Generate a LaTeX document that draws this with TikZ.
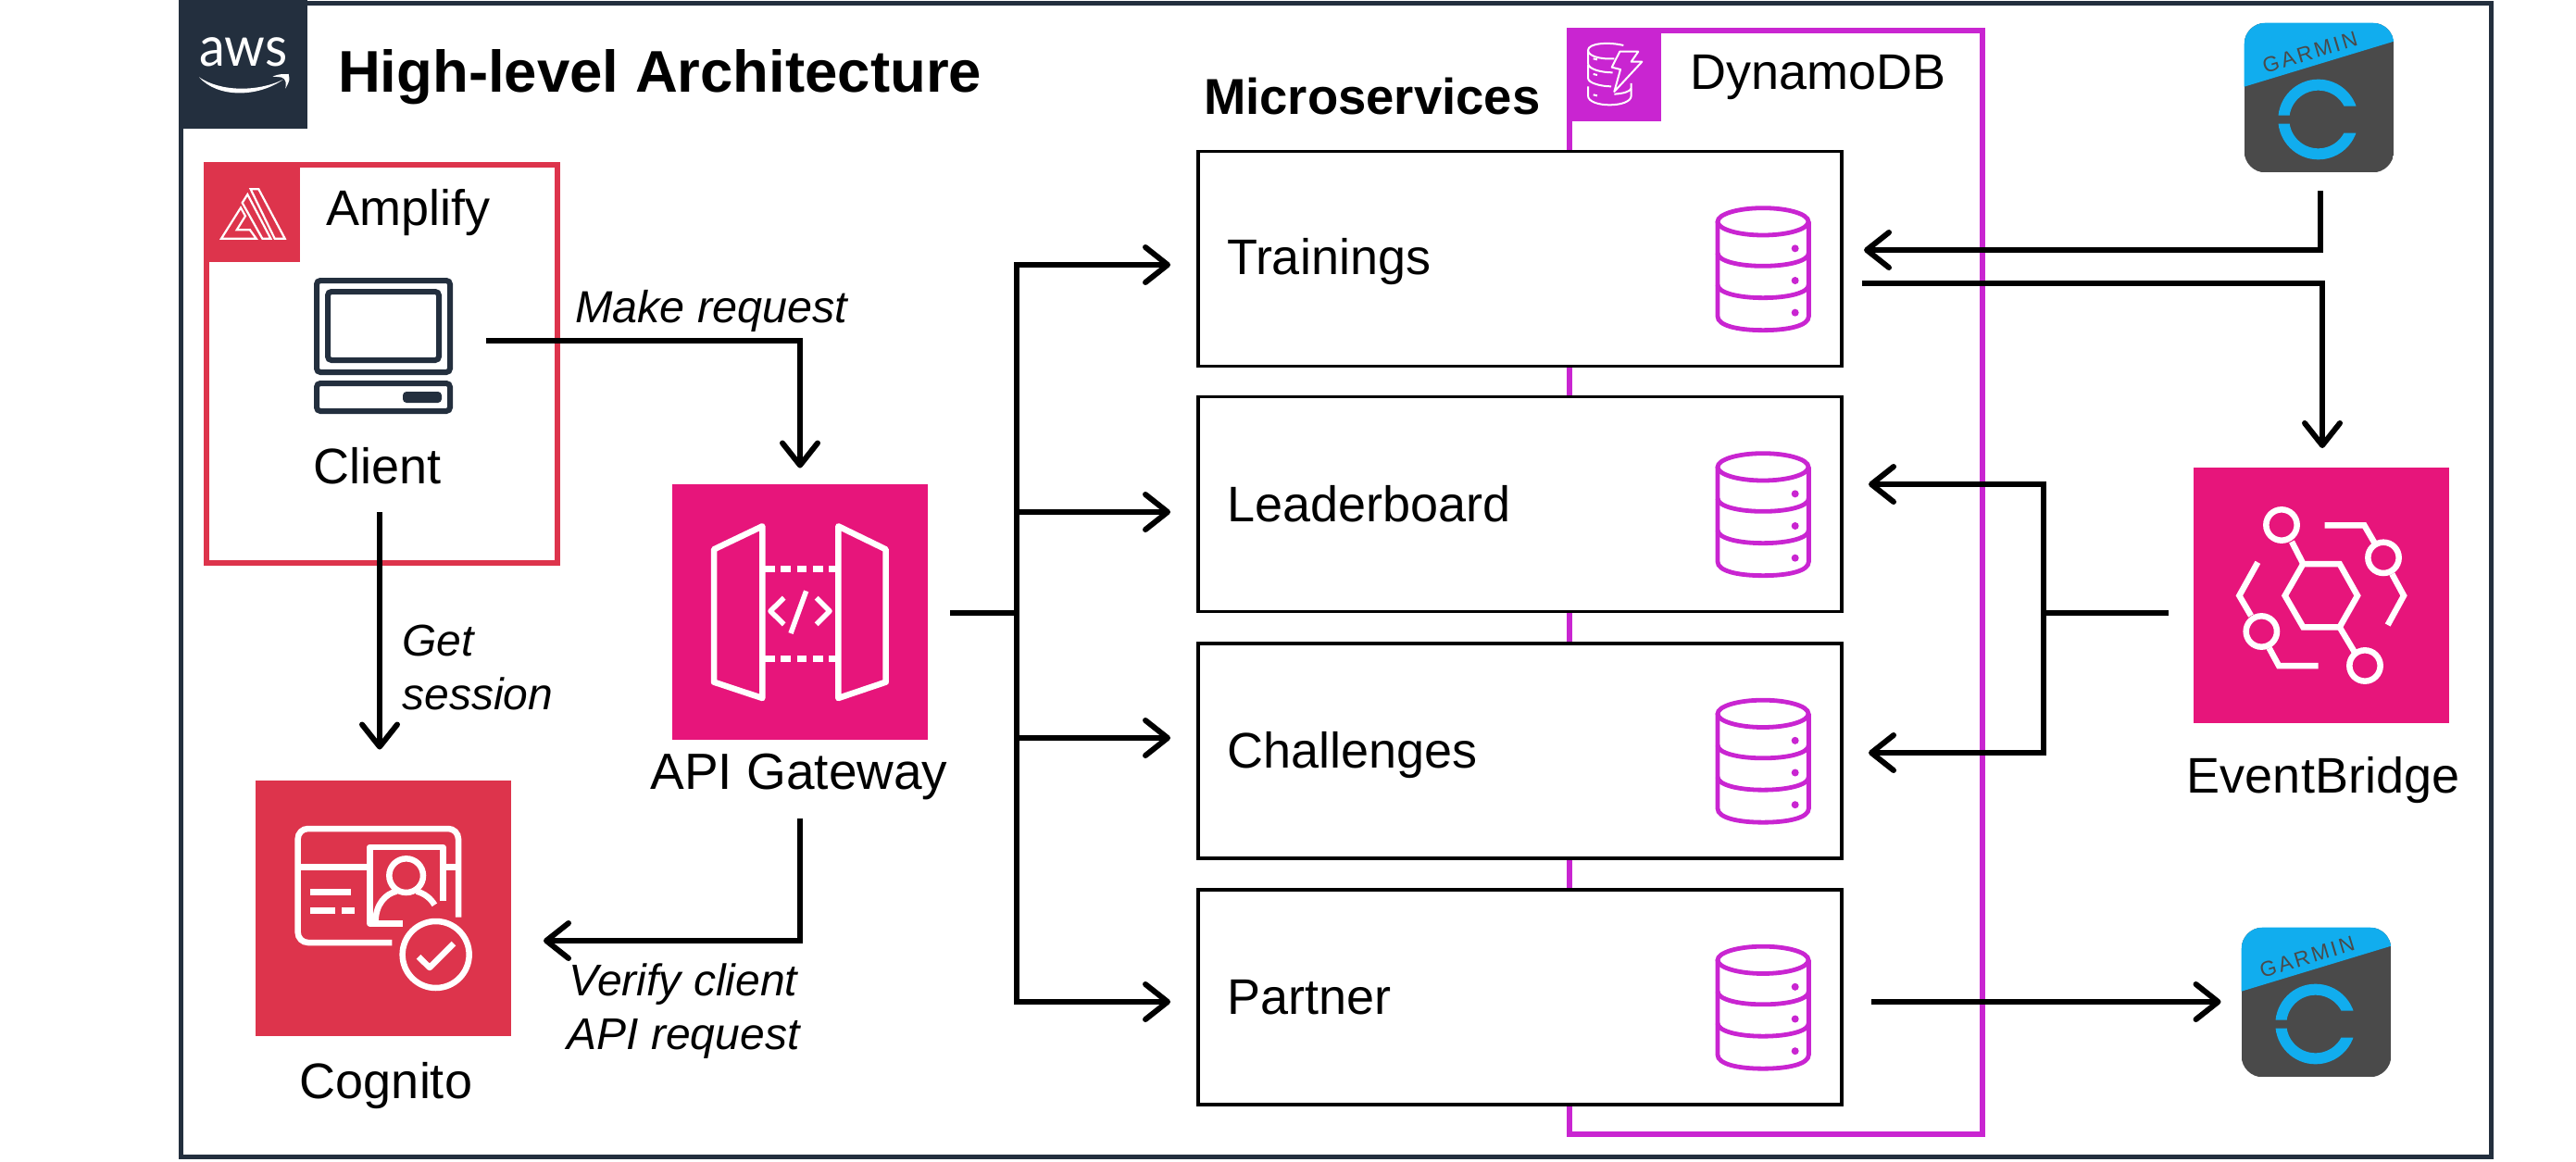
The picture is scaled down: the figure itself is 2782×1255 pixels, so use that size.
\documentclass[tikz,border=0pt]{standalone}
\usepackage{fontspec}
\setmainfont{Liberation Sans}
\newfontfamily\awsfont{Lato}
\newfontfamily\garminfont[LetterSpace=12]{Liberation Sans}
\usetikzlibrary{arrows.meta,calc}
\definecolor{awsdark}{HTML}{232F3E}
\definecolor{awsred}{HTML}{DD344C}
\definecolor{awspink}{HTML}{E7157B}
\definecolor{awspurple}{HTML}{C925D1}
\definecolor{garmindark}{HTML}{4A4A4A}
\definecolor{garminblue}{HTML}{11ADEE}
\tikzset{
  x=1pt,y=-1pt,
  every node/.style={inner sep=0pt,outer sep=0pt},
  lab/.style={font=\fontsize{54}{60}\selectfont},
  labit/.style={font=\fontsize{48}{58}\selectfont\itshape,align=center},
  headline/.style={font=\fontsize{#1}{#1}\selectfont\bfseries},
  service/.style={rectangle,draw=black,line width=3.5pt,fill=white,minimum width=695pt,minimum height=232pt},
  tile/.style={rectangle,minimum width=276pt,minimum height=276pt},
  arr/.style={draw=black,line width=6pt,shorten >=2pt,-{Straight Barb[length=24pt,width=38pt,round]}},
  wire/.style={draw=black,line width=6pt},
  icon/.style={draw=white,line width=6.5pt},
  crop/.style={x=0.33333pt,y=-0.33333pt},
  garminicon/.pic={
    \begin{scope}[crop]
      \begin{scope}
        \clip[rounded corners=23pt] (122,65) rectangle (607,550);
        \fill[garmindark] (122,65) rectangle (607,550);
        \fill[garminblue] (122,65) -- (607,65) -- (607,125) -- (122,272) -- cycle;
      \end{scope}
      \begin{scope}
        \clip (200,200) -- (520,200) -- (520,335) -- (362,335) -- (362,365) -- (200,365) -- cycle
              (200,392) -- (362,392) -- (362,422) -- (520,422) -- (520,560) -- (200,560) -- cycle;
        \draw[garminblue,line width=12pt] (362,378) circle[radius=112];
      \end{scope}
      \node[rotate=16.9,text=garmindark,font=\fontsize{23}{23}\selectfont\garminfont] (word) at (335,160) {GARMIN};
    \end{scope}
  },
  cylinder/.pic={
    \begin{scope}[crop,draw=awspurple,line width=4.8pt]
      \draw (192,88) ellipse[x radius=147,y radius=44];
      \draw (45,88) -- (45,395) .. controls (45,425) and (110,440) .. (192,440) .. controls (275,440) and (340,425) .. (340,395) -- (340,88);
      \draw (45,190) .. controls (45,215) and (110,232) .. (192,232) .. controls (275,232) and (340,215) .. (340,190);
      \draw (45,293) .. controls (45,318) and (110,335) .. (192,335) .. controls (275,335) and (340,318) .. (340,293);
      \fill[awspurple] (296,175) circle[radius=12] (296,279) circle[radius=12] (296,383) circle[radius=12];
    \end{scope}
  }
}
\begin{document}
\begin{tikzpicture}
\useasboundingbox (0,0) rectangle (2782,1255);
\fill[white] (0,0) rectangle (2782,1255);

% frame and AWS tag
\node[rectangle,draw=awsdark,line width=5pt,minimum width=2495pt,minimum height=1245pt] (frame) at (1443,626.5) {};
\node[rectangle,fill=awsdark,minimum width=138.5pt,minimum height=139pt] (awstag) at (262.25,69.5) {};
\node[anchor=base,text=white,xscale=0.93,font=\fontsize{60}{60}\selectfont\awsfont] (awstext) at (263,72) {aws};
\begin{scope}[shift={(195,0)},crop]
  \fill[white] (60,250) .. controls (130,298) and (250,298) .. (332,258) .. controls (250,316) and (120,318) .. (60,250) -- cycle;
  \fill[white] (298,248) .. controls (320,240) .. (350,240) .. controls (354,260) .. (340,287) .. controls (342,265) .. (336,256) .. controls (330,250) .. (298,248) -- cycle;
\end{scope}
\node[anchor=base west,headline=63.5] (title) at (365,99.5) {High-level Architecture};

% Amplify
\node[rectangle,draw=awsred,line width=6pt,minimum width=379pt,minimum height=430pt] (amplify) at (412.5,393) {};
\node[rectangle,fill=awsred,minimum width=104pt,minimum height=108pt] (amplifytag) at (272,229) {};
\begin{scope}[shift={(215,170)},crop,draw=white,line width=2.2pt]
  \draw (167,103) -- (193,103) -- (278,263) -- (245,263) -- cycle;
  \draw (140,147) -- (157,120) -- (232,263) -- (205,263) -- cycle;
  \draw (135,163) -- (72,263) -- (185,263) -- (165,235) -- (122,235) -- (150,190) -- cycle;
\end{scope}
\node[anchor=base west,lab] (amplifylabel) at (352,243) {Amplify};
\node[rectangle,minimum width=150pt,minimum height=147pt] (clienticon) at (414,373.5) {};
\begin{scope}[draw=awsdark,line width=6pt,rounded corners=4pt]
  \draw (342,303) rectangle (486,402);
  \draw (354,315) rectangle (474,389);
  \draw (342,414) rectangle (486,444);
  \fill[awsdark] (435,423) rectangle (477,435);
\end{scope}
\node[anchor=base,lab] (clientlabel) at (407.5,522.5) {Client};

% API Gateway
\node[tile,fill=awspink] (gateway) at (864,660.5) {};
\begin{scope}[shift={(680,500)},crop,icon,line join=round]
  \draw (273,280) -- (430,205) -- (430,762) -- (273,710) -- cycle;
  \draw (676,205) -- (830,280) -- (830,710) -- (676,762) -- cycle;
  \draw[dash pattern=on 10.6pt off 6.7pt] (438,343) -- (668,343);
  \draw[dash pattern=on 10.6pt off 6.7pt] (438,634) -- (668,634);
  \draw[line width=5.5pt] (500,437) -- (456,480) -- (500,523);
  \draw[line width=5.5pt] (605,437) -- (648,480) -- (605,523);
  \draw[line width=5.5pt] (572,415) -- (522,552);
\end{scope}
\node[anchor=base,font=\fontsize{55}{60}\selectfont] (gatewaylabel) at (863,852) {API Gateway};

% Cognito
\node[tile,fill=awsred] (cognito) at (414,980.5) {};
\begin{scope}[shift={(240,820)},crop,icon]
  \draw[rounded corners=11pt] (765,512) -- (765,225) -- (245,225) -- (245,594) -- (550,594);
  \draw (245,349) -- (478,349) (725,349) -- (765,349);
  \draw (285,430) -- (417,430) (285,491) -- (366,491) (388,491) -- (428,491);
  \draw[line join=round] (585,532) -- (478,532) -- (478,285) -- (715,285) -- (715,460);
  \draw (596,377) circle[radius=55];
  \draw (497,525) .. controls (497,470) and (530,435) .. (565,428);
  \draw (630,428) .. controls (655,435) and (675,450) .. (688,472);
  \draw (692,633) circle[radius=108];
  \draw[line join=round] (636,640) -- (672,675) -- (750,597);
\end{scope}
\node[anchor=base,lab] (cognitolabel) at (417,1186.5) {Cognito};

% DynamoDB and services
\node[rectangle,draw=awspurple,line width=6pt,minimum width=446pt,minimum height=1192pt] (dynamo) at (1918,629) {};
\node[rectangle,fill=awspurple,minimum width=102pt,minimum height=101pt] (dynamotag) at (1743,80.5) {};
\begin{scope}[shift={(1690,25)},crop,draw=white,line width=2pt,line join=round]
  \draw (190,72) .. controls (140,60) and (75,65) .. (75,88) .. controls (75,105) and (110,118) .. (160,115);
  \draw (75,88) -- (75,130) .. controls (75,150) and (120,160) .. (155,160);
  \draw (75,135) -- (75,178) .. controls (75,195) and (120,205) .. (150,205);
  \draw (75,205) -- (75,235) .. controls (75,275) and (215,275) .. (215,235) -- (215,195);
  \draw (215,212) .. controls (210,222) and (190,228) .. (160,230);
  \draw (92,115) -- (105,118) (92,165) -- (105,168) (92,232) -- (105,235);
  \draw (178,92) -- (238,92) -- (215,125) -- (250,125) -- (160,222) -- (180,150) -- (152,143) -- cycle;
\end{scope}
\node[anchor=base west,lab] (dynamolabel) at (1825,96) {DynamoDB};
\node[anchor=base west,headline=54.5] (microlabel) at (1300,123) {Microservices};

\node[service] (trainings) at (1641.5,279.5) {};
\node[service] (leaderboard) at (1641.5,544.5) {};
\node[service] (challenges) at (1641.5,811) {};
\node[service] (partner) at (1641.5,1077) {};
\node[anchor=base west,lab] (trainingslabel) at (1325,296.5) {Trainings};
\node[anchor=base west,lab] (leaderboardlabel) at (1325,563) {Leaderboard};
\node[anchor=base west,lab] (challengeslabel) at (1325,829) {Challenges};
\node[anchor=base west,lab] (partnerlabel) at (1325,1095) {Partner};
\pic at ($(trainings.center)+(198.5,-69.5)$) {cylinder};
\pic at ($(leaderboard.center)+(198.5,-69.5)$) {cylinder};
\pic at ($(challenges.center)+(198.5,-69.5)$) {cylinder};
\pic at ($(partner.center)+(198.5,-69.5)$) {cylinder};

% EventBridge
\node[tile,fill=awspink] (eventbridge) at (2506.5,643) {};
\begin{scope}[shift={(2300,480)},crop,icon]
  \draw[line join=miter] (562,387) -- (680,387) -- (738,490) -- (680,592) -- (562,592) -- (503,490) -- cycle;
  \draw (492,261) circle[radius=50] (822,367) circle[radius=50] (427,606) circle[radius=50] (762,717) circle[radius=50];
  \draw (562,387) -- (525,315) (680,592) -- (728,672);
  \draw (632,262) -- (760,262) -- (795,322);
  \draw (850,420) -- (888,490) -- (836,585);
  \draw (415,382) -- (355,490) -- (393,555);
  \draw (452,660) -- (483,717) -- (611,717);
\end{scope}
\node[anchor=base,lab] (eventbridgelabel) at (2509,856) {EventBridge};

% Garmin
\node[rectangle,minimum width=162pt,minimum height=164pt] (garmintop) at (2505,107) {};
\node[rectangle,minimum width=162pt,minimum height=162pt] (garminbottom) at (2501.5,1082.5) {};
\pic (gt) at (2383,3) {garminicon};
\pic (gb) at (2380,980) {garminicon};

% connectors
\draw[arr] ($(clienticon.east)+(36,-5.5)$) -| ($(gateway.north)+(0,-15)$);
\node[anchor=base west,font=\fontsize{48.5}{49}\selectfont\itshape] (makelabel) at (621,348.5) {Make request};
\draw[arr] ($(amplify.south)+(-2.5,-55)$) -- ($(cognito.north)+(-4,-31)$);
\node[labit,align=left,anchor=center] (getlabel) at (516,721) {Get\\session};
\draw[arr] ($(gateway.south)+(0,85)$) |- ($(cognito.east)+(33,35.5)$);
\node[labit,anchor=center] (verifylabel) at (738,1092.5) {Verify client\\API request};

\coordinate (apijoin) at (1098,662);
\draw[wire] ($(gateway.east)+(24,1.5)$) -- (apijoin);
\draw[arr] (apijoin) |- ($(trainings.west)+(-28,6.5)$);
\draw[arr] (apijoin) |- ($(leaderboard.west)+(-28,8.5)$);
\draw[arr] (apijoin) |- ($(challenges.west)+(-28,-14)$);
\draw[arr] (apijoin) |- ($(partner.west)+(-28,5)$);

\draw[arr] ($(garmintop.south)+(1,17)$) |- ($(trainings.east)+(22,-9.5)$);
\draw[arr] ($(trainings.east)+(22,26.5)$) -| ($(eventbridge.north)+(1.5,-19)$);
\coordinate (ebjoin) at (2207,662);
\draw[wire] ($(eventbridge.west)+(-27,19)$) -- (ebjoin);
\draw[arr] (ebjoin) |- ($(leaderboard.east)+(27,-21.5)$);
\draw[arr] (ebjoin) |- ($(challenges.east)+(27,2)$);
\draw[arr] ($(partner.east)+(32,5)$) -- ($(garminbottom.west)+(-20,-0.5)$);
\end{tikzpicture}
\end{document}
